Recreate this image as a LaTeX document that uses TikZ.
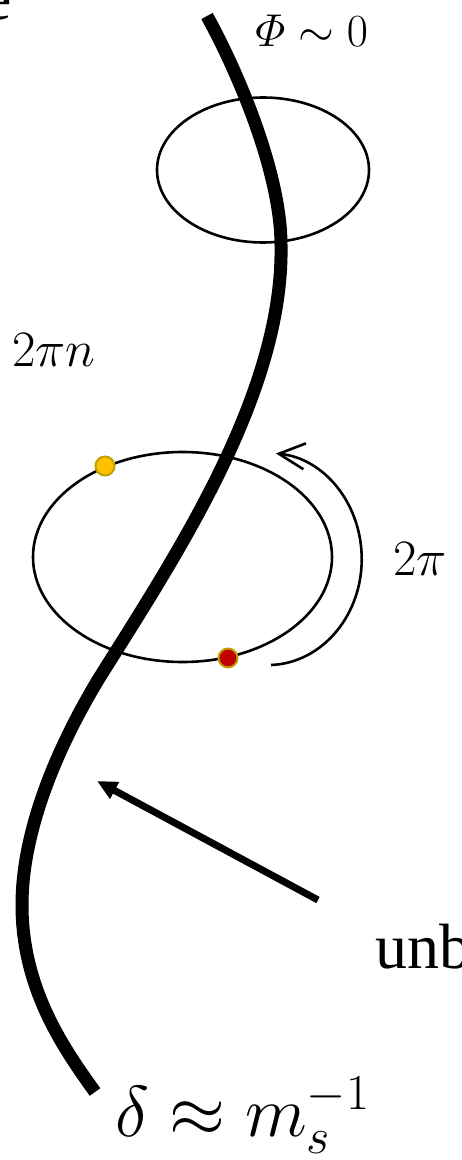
\RequirePackage{fix-cm}
\documentclass[tikz,border=0pt]{standalone}
\usepackage{amsmath}
\usepackage{fontspec}
\newfontfamily\labelfont{Liberation Serif}
\usetikzlibrary{arrows.meta}
\definecolor{gold}{HTML}{FFC000}
\definecolor{goldrim}{HTML}{BFA000}
\definecolor{crimson}{HTML}{C00000}

\begin{document}
\begin{tikzpicture}[x=0.5pt, y=-0.5pt,
    string/.style={line width=6.5pt},
    loop/.style={line width=1.3pt},
    pointer/.style={line width=3.5pt, -{Triangle[length=10pt,width=9pt]}},
    turn/.style={line width=1.3pt, -{Straight Barb[length=13pt,width=13pt]}},
    dot/.style={circle, draw=goldrim, line width=1pt, minimum size=9.5pt, inner sep=0pt},
    lbl/.style={inner sep=0pt, anchor=base west}]
        \useasboundingbox (0,0) rectangle (461,1160);

        % the two loops
        \draw[loop] (263,170) ellipse [x radius=106, y radius=72.5];
        \draw[loop] (182.5,557) ellipse [x radius=149.5, y radius=105];

        % the string
        \coordinate (s0) at (207,16);
        \coordinate (s1) at (281,245);
        \coordinate (s2) at (98,680);
        \coordinate (s3) at (22,905);
        \coordinate (s4) at (95,1092);
        \draw[string] (s0) .. controls (240,76) and (281,175) .. (s1)
            .. controls (284,395) and (173,560) .. (s2)
            .. controls (53,755) and (22,835) .. (s3)
            .. controls (22,990) and (65,1050) .. (s4);

        \node[dot, fill=gold] (y1) at (105,466) {};
        \node[dot, fill=crimson] (r1) at (228,658) {};

        % winding arrow
        \coordinate (w1) at (271,665);
        \draw[turn] (w1) arc[start angle=88, end angle=-85, x radius=94, y radius=106];

        \node[lbl, font=\fontsize{23}{28}\selectfont] (phi) at (255,47) {$\varPhi\sim 0$};
        \node[lbl, font=\fontsize{25.5}{30}\selectfont] (wind) at (12,366) {$2\pi n$};
        \node[lbl, font=\fontsize{25.5}{30}\selectfont] (turns) at (393,575) {$2\pi$};
        \node[lbl, font=\fontsize{36}{43}\selectfont] (width) at (115,1136) {$\delta\approx m_s^{-1}$};
        \node[lbl, font=\labelfont\fontsize{32}{38}\selectfont] (unb) at (375,968) {unb};
        \node[inner sep=0pt, anchor=base east, font=\labelfont\fontsize{32}{38}\selectfont] (cut) at (12,20) {e};

        \coordinate (tail) at (318,900);
        \coordinate (tip) at (97,781);
        \draw[pointer] (tail) -- (tip);
\end{tikzpicture}
\end{document}
